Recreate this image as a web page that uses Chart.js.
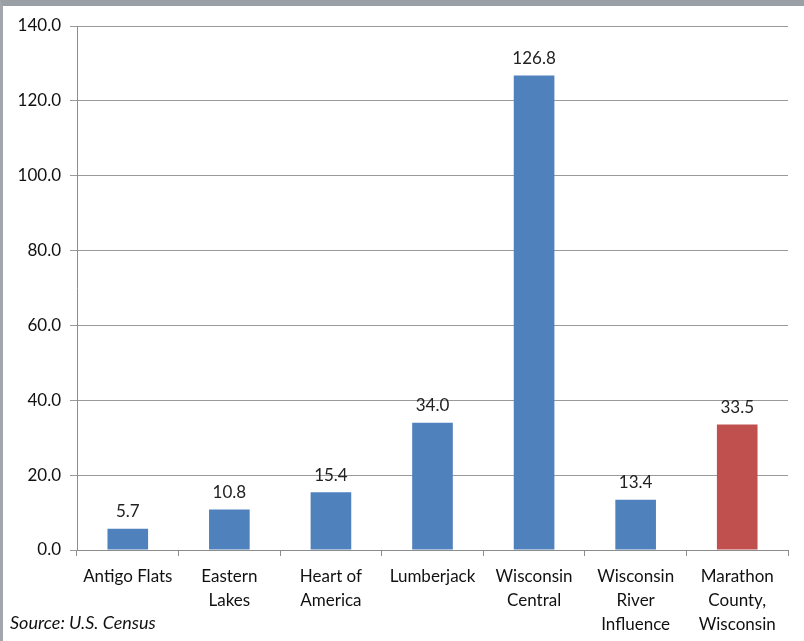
<!DOCTYPE html>
<html>
<head>
<meta charset="utf-8">
<script src="https://cdn.jsdelivr.net/npm/chart.js@4/dist/chart.umd.min.js"></script>
<style>
  html, body { margin: 0; padding: 0; background: #fff; }
  #frame {
    width: 801px; height: 635px;
    border-top: 6px solid #9b9fa6;
    border-left: 3px solid #a3a6ac;
    background: #fff;
  }
  canvas { display: block; }
</style>
</head>
<body>
<div id="frame"><canvas id="c" width="801" height="635"></canvas></div>
<script>
// Population density by area (persons per square mile)
const categories = [
  ['Antigo Flats'],
  ['Eastern', 'Lakes'],
  ['Heart of', 'America'],
  ['Lumberjack'],
  ['Wisconsin', 'Central'],
  ['Wisconsin', 'River', 'Influence'],
  ['Marathon', 'County,', 'Wisconsin']
];
const values = [5.7, 10.8, 15.4, 34.0, 126.8, 13.4, 33.5];
const barColors = ['#4f81bd', '#4f81bd', '#4f81bd', '#4f81bd', '#4f81bd', '#4f81bd', '#c0504d'];
const sourceNote = 'Source: U.S. Census';

const FONT = 'Lato, "Open Sans", sans-serif';

// Value labels above each bar
const valueLabels = {
  id: 'valueLabels',
  afterDatasetsDraw(chart) {
    const ctx = chart.ctx;
    const meta = chart.getDatasetMeta(0);
    ctx.save();
    ctx.font = '17px ' + FONT;
    ctx.fillStyle = '#222';
    ctx.textAlign = 'center';
    ctx.textBaseline = 'middle';
    meta.data.forEach((bar, i) => {
      ctx.fillText(values[i].toFixed(1), bar.x, bar.y - 17);
    });
    ctx.restore();
  }
};

// Source note in the lower-left corner
const sourceText = {
  id: 'sourceText',
  afterDraw(chart) {
    const ctx = chart.ctx;
    ctx.save();
    ctx.font = 'italic 18px ' + FONT;
    ctx.fillStyle = '#111';
    ctx.textAlign = 'left';
    ctx.textBaseline = 'middle';
    ctx.fillText(sourceNote, 7, 617);
    ctx.restore();
  }
};

new Chart(document.getElementById('c'), {
  type: 'bar',
  data: {
    labels: categories,
    datasets: [{
      data: values,
      backgroundColor: barColors,
      borderWidth: 0,
      barPercentage: 0.4,
      categoryPercentage: 1.0
    }]
  },
  options: {
    responsive: false,
    animation: false,
    layout: { padding: { left: 0, top: 20, right: 16, bottom: 0 } },
    plugins: {
      legend: { display: false },
      tooltip: { enabled: false }
    },
    scales: {
      x: {
        grid: {
          offset: true,
          drawOnChartArea: false,
          drawTicks: true,
          tickLength: 6,
          color: '#8c8c8c'
        },
        border: { color: '#8c8c8c', width: 1 },
        ticks: {
          color: '#111',
          font: { family: FONT, size: 17, lineHeight: 1.42 },
          padding: 8,
          maxRotation: 0,
          autoSkip: false
        },
        afterFit(scale) { scale.height = 91; }
      },
      y: {
        min: 0,
        max: 140,
        ticks: {
          stepSize: 20,
          color: '#111',
          font: { family: FONT, size: 17 },
          padding: 9,
          callback: v => Number(v).toFixed(1)
        },
        grid: {
          color: '#9a9a9a',
          tickLength: 7,
          drawTicks: true
        },
        border: { color: '#8c8c8c', width: 1 },
        afterFit(scale) { scale.width = 74; }
      }
    }
  },
  plugins: [valueLabels, sourceText]
});
</script>
</body>
</html>
